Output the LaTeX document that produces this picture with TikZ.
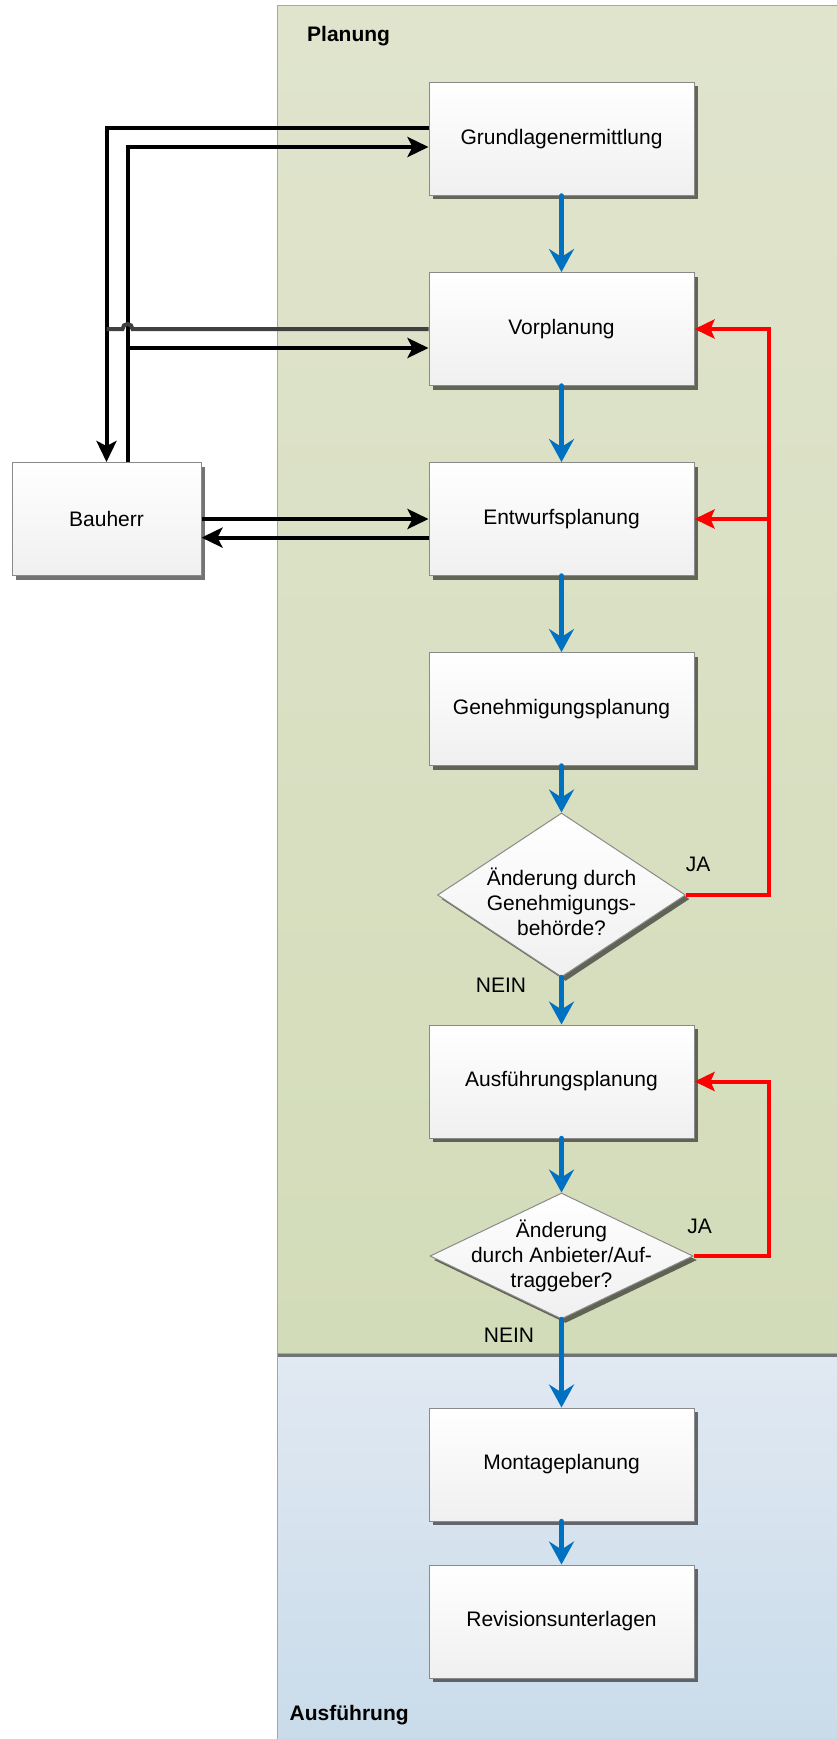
\documentclass[tikz,border=0pt]{standalone}
\usepackage{fontspec}
\setmainfont{Liberation Sans}
\usetikzlibrary{positioning, shapes.geometric, shadows, arrows.meta, calc}
\definecolor{planTop}{RGB}{224,228,205}
\definecolor{planBot}{RGB}{211,220,185}
\definecolor{ausTop}{RGB}{225,233,242}
\definecolor{ausBot}{RGB}{201,219,234}
\definecolor{flowBlue}{RGB}{0,112,192}
\definecolor{boxLine}{RGB}{138,138,138}

\begin{document}
\begin{tikzpicture}[font=\fontsize{21}{25}\selectfont, node distance=76pt]
\tikzstyle{box}=[rectangle, draw=boxLine, line width=1pt, top color=white, bottom color=gray!12, minimum width=265pt, minimum height=113pt, drop shadow={shadow xshift=4pt, shadow yshift=-4pt, fill=black, opacity=.55}]
\tikzstyle{ask}=[diamond, draw=boxLine, line width=1pt, top color=white, bottom color=gray!12, align=center, inner sep=-30pt, aspect=2, drop shadow={shadow xshift=4pt, shadow yshift=-4pt, fill=black, opacity=.55}]
\tikzstyle{flow}=[-{Stealth[length=23pt,width=25pt,inset=8pt]}, color=flowBlue, line width=5.5pt, line cap=round]
\tikzstyle{back}=[-{Stealth[length=20pt,width=19pt,inset=4pt]}, color=red, line width=4pt]
\tikzstyle{talk}=[-{Stealth[length=21pt,width=20pt,inset=5pt]}, color=black, line width=4pt]
\tikzstyle{lane}=[draw=gray!70, line width=1pt]
\tikzstyle{lanename}=[font=\fontsize{21}{25}\selectfont\bfseries, anchor=west, inner sep=0pt]

\useasboundingbox (0,0) rectangle (837pt,-1739pt);
\path[lane, top color=ausTop, bottom color=ausBot] (277.5pt,-1353pt) rectangle (845pt,-1745pt);
\path[lane, top color=planTop, bottom color=planBot, drop shadow={shadow xshift=0pt, shadow yshift=-4pt, fill=black, opacity=.5}] (277.5pt,-5.5pt) rectangle (845pt,-1353pt);
\node[lanename] (plan) at (307pt,-36pt) {Planung};
\node[lanename] (ausl) at (289.5pt,-1715pt) {Ausführung};

\node[box] (grund) at (561.5pt,-139pt) {Grundlagenermittlung};
\node[box] (vor)   [below=of grund] {Vorplanung};
\node[box] (entw)  [below=of vor]   {Entwurfsplanung};
\node[box] (gen)   [below=of entw]  {Genehmigungsplanung};
\node[ask, minimum width=248pt, minimum height=164pt] (dia1) [below=46.5pt of gen] {\rule{0pt}{31pt}Änderung durch\\Genehmigungs-\\behörde?};
\node[box] (ausf)  [below=47pt of dia1] {Ausführungsplanung};
\node[ask, minimum width=263pt, minimum height=126pt] (dia2) [below=54pt of ausf] {Änderung\\durch Anbieter/Auf-\\traggeber?};
\node[box] (mont)  [below=88pt of dia2] {Montageplanung};
\node[box] (rev)   [below=43pt of mont] {Revisionsunterlagen};
\node[box, minimum width=189pt] (bauherr) [left=227pt of entw] {Bauherr};

\node (ja1)   at ([shift={(12pt,31pt)}]dia1.east)     {JA};
\node (nein1) at ([shift={(-60.5pt,-8pt)}]dia1.south) {NEIN};
\node (ja2)   at ([shift={(6pt,29.5pt)}]dia2.east)    {JA};
\node (nein2) at ([shift={(-52.5pt,-16pt)}]dia2.south) {NEIN};

\path[flow]
(grund) edge (vor)
(vor)   edge (entw)
(entw)  edge (gen)
(gen)   edge (dia1)
(dia1)  edge (ausf)
(ausf)  edge (dia2)
(dia2)  edge (mont)
(mont)  edge (rev);

\coordinate (rc) at (769pt,0);
\draw[back] (dia1.east) -- (dia1.east -| rc) |- (vor.east);
\draw[back] (dia1.east -| rc) |- (entw.east);
\draw[back] (dia2.east) -- (dia2.east -| rc) |- (ausf.east);

\coordinate (jmp) at ([xshift=21pt]bauherr.north |- vor.west);
\draw[talk] ([yshift=11pt]grund.west) -| (bauherr.north);
\draw[talk] ([xshift=21pt]bauherr.north) |- ([yshift=-8pt]grund.west);
\draw[talk] ([xshift=21pt]bauherr.north) |- ([yshift=-19pt]vor.west);
\draw[black!75, line width=4pt] (vor.west) -- ([xshift=5pt]jmp) arc[start angle=0, end angle=180, radius=5pt] -- (bauherr.north |- vor.west);
\draw[talk] (bauherr.east) -- (entw.west);
\draw[talk] ([yshift=-18.6pt]entw.west) -- ([yshift=-18.6pt]bauherr.east);
\end{tikzpicture}
\end{document}
